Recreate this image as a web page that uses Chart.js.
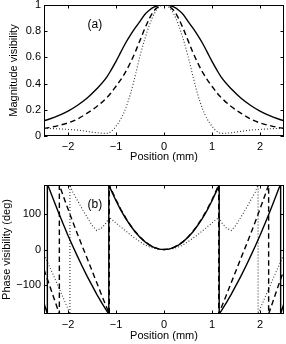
<!DOCTYPE html>
<html>
<head>
<meta charset="utf-8">
<script src="https://cdn.jsdelivr.net/npm/chart.js@4.4.1/dist/chart.umd.min.js"></script>
<style>
  html, body { margin: 0; padding: 0; background: #fff; }
  body { width: 286px; height: 344px; position: relative; overflow: hidden; }
  canvas { position: absolute; left: 0; }
  #c1 { top: 0; }
  #c2 { top: 172px; }
</style>
</head>
<body>
<canvas id="c1" width="286" height="172"></canvas>
<canvas id="c2" width="286" height="172"></canvas>
<script>
// ---------- data ----------
const xTicks = [-2, -1, 0, 1, 2];
const magTicks = [0, 0.2, 0.4, 0.6, 0.8, 1];
const phaseTicks = [-100, 0, 100];

const magX = [-2.5,-2.4,-2.2,-2.0,-1.8,-1.6,-1.4,-1.2,-1.1,-1.0,-0.9,-0.8,-0.7,-0.6,-0.5,-0.4,-0.3,-0.2,-0.1,0,
              0.1,0.2,0.3,0.4,0.5,0.6,0.7,0.8,0.9,1.0,1.1,1.2,1.4,1.6,1.8,2.0,2.2,2.4,2.5];
const magSolid = [0.117,0.128,0.155,0.19,0.235,0.29,0.36,0.445,0.505,0.57,0.64,0.71,0.77,0.825,0.875,0.928,0.962,0.985,0.997,1.0,
                  0.997,0.985,0.962,0.928,0.875,0.825,0.77,0.71,0.64,0.57,0.505,0.445,0.36,0.29,0.235,0.19,0.155,0.128,0.117];
const magDashed = [0.058,0.064,0.08,0.1,0.13,0.175,0.225,0.29,0.33,0.38,0.43,0.49,0.56,0.64,0.73,0.82,0.9,0.96,0.99,1.0,
                   0.99,0.96,0.9,0.82,0.73,0.64,0.56,0.49,0.43,0.38,0.33,0.29,0.225,0.175,0.13,0.1,0.08,0.064,0.058];
const magDotted = [0.06,0.058,0.055,0.05,0.045,0.035,0.025,0.02,0.035,0.075,0.13,0.21,0.32,0.46,0.61,0.74,0.85,0.935,0.985,1.0,
                   0.985,0.935,0.85,0.74,0.61,0.46,0.32,0.21,0.13,0.075,0.035,0.02,0.025,0.035,0.045,0.05,0.055,0.058,0.06];

const phaseSolidX = [-2.5,-2.43,-2.43,-2.4,-2.3,-2.2,-2.1,-2.0,-1.9,-1.8,-1.7,-1.6,-1.5,-1.4,-1.3,-1.2,-1.15,-1.15,
                     -1.1,-1.0,-0.9,-0.8,-0.7,-0.6,-0.5,-0.4,-0.3,-0.2,-0.1,0,
                     0.1,0.2,0.3,0.4,0.5,0.6,0.7,0.8,0.9,1.0,1.1,1.15,1.15,
                     1.2,1.3,1.4,1.5,1.6,1.7,1.8,1.9,2.0,2.1,2.2,2.3,2.4,2.43,2.43,2.5];
const phaseSolidY = [-150,-180,180,173,138,104,71,39,9,-20,-48,-75,-100,-125,-148,-170,-180,180,
                     165,136,110,87,67,49,34,22,12,5,1,0,
                     1,5,12,22,34,49,67,87,110,136,165,180,-180,
                     -170,-148,-125,-100,-75,-48,-20,9,39,71,104,138,173,180,-180,-150];

const phaseDashedX = [-2.5,-2.4,-2.3,-2.18,-2.18,-2.1,-2.0,-1.9,-1.8,-1.7,-1.6,-1.5,-1.4,-1.3,-1.2,-1.14,-1.14,
                      -1.1,-1.0,-0.9,-0.8,-0.7,-0.6,-0.5,-0.4,-0.3,-0.2,-0.1,0,
                      0.1,0.2,0.3,0.4,0.5,0.6,0.7,0.8,0.9,1.0,1.1,1.14,1.14,
                      1.2,1.3,1.4,1.5,1.6,1.7,1.8,1.9,2.0,2.1,2.18,2.18,2.3,2.4,2.5];
const phaseDashedY = [-56,-94,-133,-180,180,150,113,77,42,8,-25,-59,-93,-127,-160,-180,180,
                      168,139,112,89,68,50,35,22,13,6,1,0,
                      1,6,13,22,35,50,68,89,112,139,168,180,-180,
                      -160,-127,-93,-59,-25,8,42,77,113,150,180,-180,-133,-94,-56];

const phaseDottedX = [-2.5,-2.4,-2.3,-2.2,-2.1,-2.0,-1.96,-1.96,-1.9,-1.8,-1.7,-1.6,-1.5,-1.4,-1.3,-1.2,-1.14,
                      -1.1,-1.0,-0.9,-0.8,-0.7,-0.6,-0.5,-0.4,-0.3,-0.2,-0.1,0,
                      0.1,0.2,0.3,0.4,0.5,0.6,0.7,0.8,0.9,1.0,1.1,1.14,
                      1.2,1.3,1.4,1.5,1.6,1.7,1.8,1.9,1.96,1.96,2.0,2.1,2.2,2.3,2.4,2.5];
const phaseDottedY = [-14,-43,-73,-104,-135,-166,-180,180,160,136,112,90,68,53,60,75,90,
                      85,74,63,52,41,31,22,13,7,3,1,0,
                      1,3,7,13,22,31,41,52,63,74,85,90,
                      75,60,53,68,90,112,136,160,180,-180,-166,-135,-104,-73,-43,-14];

// ---------- helpers ----------
const FONT = '"Liberation Sans", Arial, Helvetica, sans-serif';
const fmt = v => {
  const s = String(Math.round(v * 100) / 100);
  return s.replace('-', '\u2212');
};
const pts = (xs, ys) => xs.map((x, i) => ({ x: x, y: ys[i] }));

const framePlugin = {
  id: 'frame',
  afterDatasetsDraw(chart, args, opts) {
    const { ctx, chartArea: a, scales } = chart;
    ctx.save();
    ctx.strokeStyle = '#000';
    ctx.lineWidth = 1;
    ctx.strokeRect(a.left + 0.5, a.top + 0.5, a.right - a.left - 1, a.bottom - a.top - 1);
    const tl = 3.5;
    ctx.beginPath();
    scales.x.ticks.forEach(t => {
      const px = Math.round(scales.x.getPixelForValue(t.value)) + 0.5;
      ctx.moveTo(px, a.bottom); ctx.lineTo(px, a.bottom - tl);
      ctx.moveTo(px, a.top); ctx.lineTo(px, a.top + tl);
    });
    scales.y.ticks.forEach(t => {
      const py = Math.round(scales.y.getPixelForValue(t.value)) + 0.5;
      ctx.moveTo(a.left, py); ctx.lineTo(a.left + tl, py);
      ctx.moveTo(a.right, py); ctx.lineTo(a.right - tl, py);
    });
    ctx.stroke();
    if (opts && opts.label) {
      ctx.fillStyle = '#000';
      ctx.font = '12px ' + FONT;
      ctx.textAlign = 'center';
      ctx.textBaseline = 'middle';
      ctx.fillText(opts.label, scales.x.getPixelForValue(opts.lx), scales.y.getPixelForValue(opts.ly));
    }
    ctx.restore();
  }
};

function makeChart(id, cfg) {
  const lineBase = { pointRadius: 0, fill: false, showLine: true };
  return new Chart(document.getElementById(id), {
    type: 'scatter',
    data: {
      datasets: [
        Object.assign({}, lineBase, { data: cfg.solid, borderColor: '#000', borderWidth: 1.4,
          cubicInterpolationMode: cfg.smooth ? 'monotone' : 'default', tension: 0 }),
        Object.assign({}, lineBase, { data: cfg.dashed, borderColor: '#000', borderWidth: 1.4, borderDash: [5.5, 3.5],
          cubicInterpolationMode: cfg.smooth ? 'monotone' : 'default', tension: 0 }),
        Object.assign({}, lineBase, { data: cfg.dotted, borderColor: '#333', borderWidth: 1.1, borderDash: [1, 2],
          cubicInterpolationMode: cfg.smooth ? 'monotone' : 'default', tension: 0 })
      ]
    },
    options: {
      responsive: false,
      animation: false,
      devicePixelRatio: 1,
      layout: { padding: { left: 0, right: 2, top: cfg.padTop, bottom: 0 } },
      plugins: { legend: { display: false }, tooltip: { enabled: false },
                 frame: { label: cfg.label, lx: -1.44, ly: cfg.labelY } },
      scales: {
        x: {
          type: 'linear', min: -2.5, max: 2.5,
          afterBuildTicks: s => { s.ticks = xTicks.map(v => ({ value: v })); },
          afterFit: s => { s.height = cfg.xAxisH; s.paddingLeft = 0; s.paddingRight = 0; },
          grid: { display: false, drawTicks: false },
          border: { display: false },
          ticks: { color: '#000', font: { size: 11, family: FONT }, padding: cfg.xTickPad, maxRotation: 0,
                   autoSkip: false, callback: v => fmt(v) },
          title: { display: true, text: 'Position (mm)', color: '#000', font: { size: 11, family: FONT },
                   padding: { top: 0, bottom: cfg.xTitlePad } }
        },
        y: {
          type: 'linear', min: cfg.ymin, max: cfg.ymax,
          afterBuildTicks: s => { s.ticks = cfg.yTicks.map(v => ({ value: v })); },
          afterFit: s => { s.width = 44; s.paddingTop = 0; s.paddingBottom = 0; },
          grid: { display: false, drawTicks: false },
          border: { display: false },
          ticks: { color: '#000', font: { size: 11, family: FONT }, padding: 3, autoSkip: false,
                   callback: v => fmt(v) },
          title: { display: true, text: cfg.yTitle, color: '#000', font: { size: 11, family: FONT },
                   padding: { top: cfg.yTitlePad, bottom: 0 } }
        }
      }
    },
    plugins: [framePlugin]
  });
}

makeChart('c1', {
  solid: pts(magX, magSolid), dashed: pts(magX, magDashed), dotted: pts(magX, magDotted),
  smooth: true, padTop: 5, xAxisH: 36, xTickPad: 4, xTitlePad: 8.7,
  ymin: 0, ymax: 1, yTicks: magTicks, yTitle: 'Magnitude visibility', yTitlePad: 7.4,
  label: '(a)', labelY: 0.85
});
makeChart('c2', {
  solid: pts(phaseSolidX, phaseSolidY), dashed: pts(phaseDashedX, phaseDashedY), dotted: pts(phaseDottedX, phaseDottedY),
  smooth: false, padTop: 13, xAxisH: 30, xTickPad: 4, xTitlePad: 1.4,
  ymin: -180, ymax: 180, yTicks: phaseTicks, yTitle: 'Phase visibility (deg)', yTitlePad: 0,
  label: '(b)', labelY: 126
});
</script>
</body>
</html>
